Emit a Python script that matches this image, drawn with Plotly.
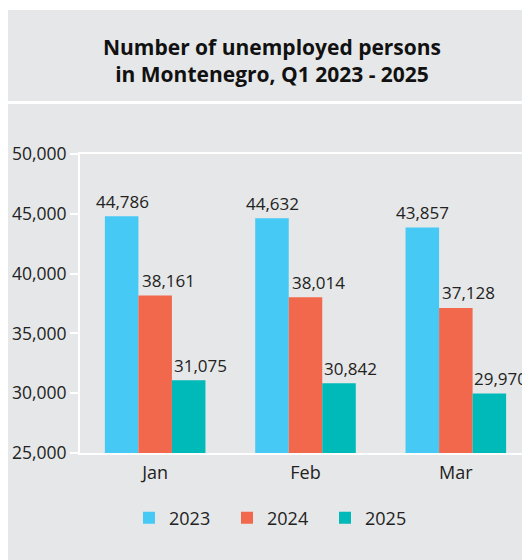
import plotly.graph_objects as go

months = ["Jan", "Feb", "Mar"]
years = ["2023", "2024", "2025"]
values_2023 = [44786, 44632, 43857]
values_2024 = [38161, 38014, 37128]
values_2025 = [31075, 30842, 29970]
colors = ["#47c9f5", "#f2684c", "#00b9b9"]
series = [values_2023, values_2024, values_2025]
label_shift = [-33, 13, 45]  # horizontal label offsets in px

W, H = 530, 560
OFF = 8  # page body margin
L, R, T, B = 72, 7, 146, 115
pw, ph = W - L - R, H - T - B

def px(x):  # page pixel -> paper
    return (x - OFF - L) / pw

def py(y):
    return (H - B - (y - OFF)) / ph

font = "Open Sans"
fig = go.Figure()
annotations = []
for name, vals, c, dx in zip(years, series, colors, label_shift):
    fig.add_trace(go.Bar(
        x=months, y=vals, name=name, marker=dict(color=c, line=dict(width=0)),
    ))
    for m, v in zip(months, vals):
        annotations.append(dict(
            x=m, y=v, xref="x", yref="y", text=f"{v:,}", showarrow=False,
            xanchor="center", yanchor="middle", xshift=dx, yshift=15,
            font=dict(size=17, color="#222222", family=font),
        ))

shapes = [
    dict(type="rect", xref="paper", yref="paper", x0=px(0), x1=px(W + OFF), y0=py(10), y1=py(OFF),
         fillcolor="white", line=dict(width=0), layer="below"),
    dict(type="rect", xref="paper", yref="paper", x0=px(0), x1=px(W + OFF), y0=py(104), y1=py(101),
         fillcolor="white", line=dict(width=0), layer="below"),
    dict(type="rect", xref="paper", yref="paper", x0=px(528), x1=px(W + OFF), y0=py(H + OFF), y1=py(104),
         fillcolor="white", line=dict(width=0), layer="below"),
]

fig.update_layout(
    width=W, height=H,
    margin=dict(l=L, r=R, t=T, b=B, autoexpand=False),
    paper_bgcolor="#e6e7e8", plot_bgcolor="rgba(0,0,0,0)",
    barmode="group", bargap=0.331, bargroupgap=0,
    font=dict(family=font, color="#222222"),
    title=dict(text="<b>Number of unemployed persons<br>in Montenegro, Q1 2023 - 2025</b>",
               x=px(272), xref="paper", xanchor="center",
               y=1 - (55 - OFF) / H, yanchor="middle", font=dict(size=21, color="#111111", family=font)),
    shapes=shapes,
    annotations=annotations,
    showlegend=True,
    legend=dict(orientation="h", x=px(276), xanchor="center", y=py(518), yanchor="middle",
                font=dict(size=18, color="#222222", family=font), itemwidth=30,
                entrywidth=53, entrywidthmode="pixels",
                bgcolor="rgba(0,0,0,0)", traceorder="normal"),
    xaxis=dict(showline=True, linecolor="white", linewidth=2, mirror=True, ticks="",
               showgrid=False, tickfont=dict(size=18, color="#222222"), ticklabelstandoff=2,
               automargin=False),
    yaxis=dict(range=[25000, 50000], dtick=5000, tickformat=",", showgrid=False,
               showline=True, linecolor="white", linewidth=2, ticks="outside",
               tickcolor="white", ticklen=8, tickwidth=2, zeroline=False,
               tickfont=dict(size=17.5, color="#222222"), automargin=False),
)

fig.write_html("out.html")
